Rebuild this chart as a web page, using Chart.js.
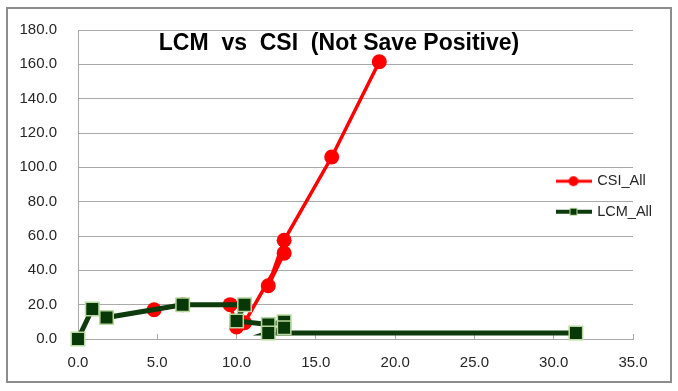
<!DOCTYPE html>
<html>
<head>
<meta charset="utf-8">
<script src="https://cdn.jsdelivr.net/npm/chart.js@4/dist/chart.umd.min.js"></script>
<style>
html, body { margin: 0; padding: 0; background: #ffffff; }
#wrap { position: relative; width: 678px; height: 391px; }
</style>
</head>
<body>
<div id="wrap"><canvas id="c" width="678" height="391"></canvas></div>
<script>
// ---- data ----
const chartTitle = 'LCM  vs  CSI  (Not Save Positive)';
const seriesNames = ['CSI_All', 'LCM_All'];
const csiX = [4.8, 6.6, 9.6, 10.0, 10.5, 13.0, 12.0, 13.0, 16.0, 19.0];
const csiY = [17.0, 20.0, 20.0, 7.0, 9.5, 50.0, 31.0, 57.5, 106.0, 161.5];
const lcmX = [0.0, 0.9, 1.8, 6.6, 10.5, 10.0, 12.0, 13.0, 13.0, 12.0, 31.4];
const lcmY = [0.0, 17.5, 12.5, 20.0, 20.0, 10.5, 8.5, 10.0, 6.5, 3.5, 3.5];
const xTickLabels = ['0.0', '5.0', '10.0', '15.0', '20.0', '25.0', '30.0', '35.0'];
const yTickLabels = ['0.0', '20.0', '40.0', '60.0', '80.0', '100.0', '120.0', '140.0', '160.0', '180.0'];

// ---- styles ----
const RED = '#ff0000';
const GREEN_LINE = '#0d3b0d';
const GREEN_FILL = '#083808';
const GREEN_EDGE = '#b9d89f';
const GRID = '#a9a9a9';
const FONT = "'Liberation Sans', Arial, sans-serif";

function toPoints(xs, ys) { return xs.map((x, i) => ({ x: x, y: ys[i] })); }

function legendSample(kind) {
  const c = document.createElement('canvas');
  c.width = 36; c.height = 14;
  const g = c.getContext('2d');
  g.strokeStyle = kind === 'csi' ? RED : GREEN_LINE;
  g.lineWidth = kind === 'csi' ? 3 : 4;
  g.beginPath(); g.moveTo(0, 7); g.lineTo(36, 7); g.stroke();
  if (kind === 'csi') {
    g.fillStyle = RED; g.beginPath(); g.arc(18, 7, 5, 0, Math.PI * 2); g.fill();
  } else {
    g.fillStyle = GREEN_FILL; g.fillRect(14, 3, 8, 8);
    g.strokeStyle = GREEN_EDGE; g.lineWidth = 1; g.strokeRect(14.5, 3.5, 7, 7);
  }
  return c;
}
const samples = [legendSample('csi'), legendSample('lcm')];

const framePlugin = {
  id: 'frame',
  beforeDraw(chart) {
    const ctx = chart.ctx;
    ctx.save();
    ctx.fillStyle = '#ffffff';
    ctx.fillRect(0, 0, chart.width, chart.height);
    ctx.strokeStyle = '#8c8c8c';
    ctx.lineWidth = 2;
    ctx.strokeRect(7, 8, 664, 374);
    ctx.restore();
    // place legend inside the plot, right side
    const lg = chart.legend;
    if (lg) { lg.left = 541; lg.top = 158; lg.right = 678; lg.bottom = 260; }
  },
  afterDraw(chart) {
    const ctx = chart.ctx;
    ctx.save();
    ctx.font = 'bold 23px ' + FONT;
    ctx.fillStyle = '#000000';
    ctx.textAlign = 'center';
    ctx.textBaseline = 'middle';
    ctx.fillText(chartTitle, 339, 44);
    ctx.restore();
  }
};

new Chart(document.getElementById('c'), {
  type: 'line',
  data: {
    datasets: [
      {
        label: seriesNames[0],
        data: toPoints(csiX, csiY),
        order: 1,
        clip: false,
        borderColor: RED,
        backgroundColor: RED,
        borderWidth: 3.5,
        pointStyle: 'circle',
        pointRadius: 7.5,
        pointHoverRadius: 7.5,
        pointBackgroundColor: RED,
        pointBorderColor: RED,
        pointBorderWidth: 0,
        tension: 0
      },
      {
        label: seriesNames[1],
        data: toPoints(lcmX, lcmY),
        order: 0,
        clip: false,
        borderColor: GREEN_LINE,
        backgroundColor: GREEN_FILL,
        borderWidth: 5,
        pointStyle: 'rect',
        pointRadius: 9.5,
        pointHoverRadius: 9.5,
        pointBackgroundColor: GREEN_FILL,
        pointBorderColor: GREEN_EDGE,
        pointBorderWidth: 1.5,
        tension: 0
      }
    ]
  },
  options: {
    responsive: false,
    animation: false,
    layout: { padding: { top: 29, right: 45, left: 0, bottom: 0 } },
    plugins: {
      tooltip: { enabled: false },
      title: { display: false },
      legend: {
        display: true,
        position: 'chartArea',
        align: 'start',
        labels: {
          usePointStyle: true,
          pointStyleWidth: 33,
          padding: 16,
          color: '#262626',
          font: { family: FONT, size: 14.5 },
          sort: (a, b) => a.datasetIndex - b.datasetIndex,
          generateLabels(chart) {
            const items = Chart.defaults.plugins.legend.labels.generateLabels(chart);
            items.forEach(it => { it.pointStyle = samples[it.datasetIndex]; });
            return items;
          }
        }
      }
    },
    scales: {
      x: {
        type: 'linear',
        position: 'bottom',
        min: 0, max: 35,
        afterFit(s) { s.height = 52; },
        ticks: {
          stepSize: 5,
          padding: 20,
          color: '#262626',
          font: { family: FONT, size: 15 },
          callback: (v, i) => xTickLabels[i]
        },
        grid: { drawOnChartArea: false, drawTicks: true, tickLength: -5, tickColor: GRID, tickWidth: 1 },
        border: { display: true, color: GRID, width: 1 }
      },
      y: {
        type: 'linear',
        min: 0, max: 180,
        afterFit(s) { s.width = 78; },
        ticks: {
          stepSize: 20,
          padding: 21,
          color: '#262626',
          font: { family: FONT, size: 15 },
          callback: (v, i) => yTickLabels[i]
        },
        grid: { drawOnChartArea: true, drawTicks: false, color: GRID, lineWidth: 1 },
        border: { display: true, color: GRID, width: 1 }
      }
    }
  },
  plugins: [framePlugin]
});
</script>
</body>
</html>
